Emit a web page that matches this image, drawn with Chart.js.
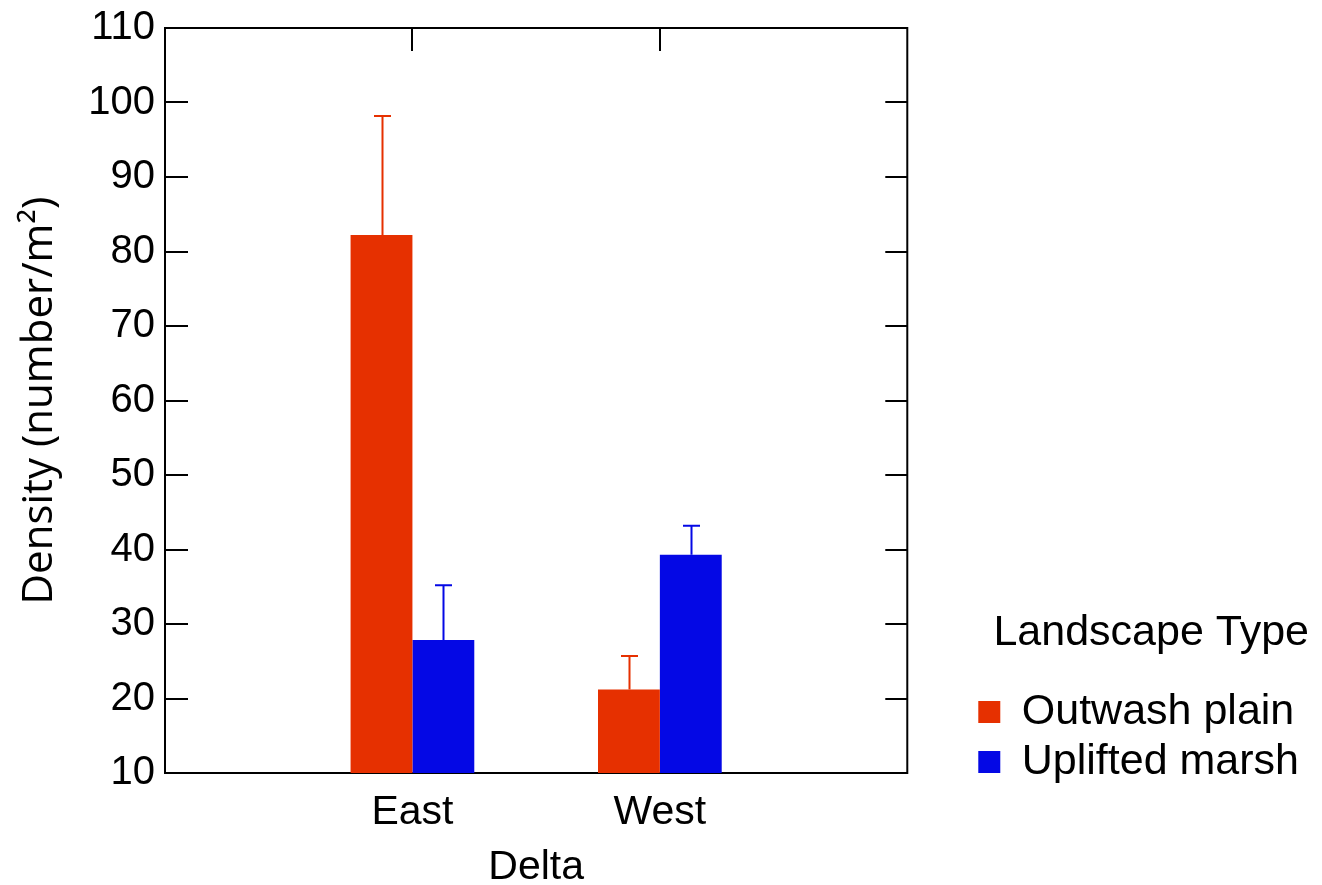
<!DOCTYPE html>
<html>
<head>
<meta charset="utf-8">
<script src="https://cdn.jsdelivr.net/npm/chart.js@4.4.1/dist/chart.umd.min.js"></script>
<style>
  html, body { margin: 0; padding: 0; background: #ffffff; }
  #wrap { width: 1322px; height: 885px; }
</style>
</head>
<body>
<div id="wrap"><canvas id="c" width="1322" height="885"></canvas></div>
<script>
// Density by delta and landscape type (mean with upper error bar)
const categories = ['East', 'West'];
const seriesNames = ['Outwash plain', 'Uplifted marsh'];
const outwashMeans = [82.2, 21.2];
const outwashErrors = [16.0, 4.5];
const upliftedMeans = [27.85, 39.3];
const upliftedErrors = [7.35, 3.9];
const yTickValues = [10, 20, 30, 40, 50, 60, 70, 80, 90, 100, 110];

const RED = '#E63000';
const BLUE = '#0408E5';
const FONT = "'Liberation Sans', Arial, sans-serif";

// Empty slots on both ends put the categories at 1/3 and 2/3 of the axis
const axisLabels = ['', ...categories, ''];
const pad = arr => [null, ...arr, null];

// Box around the plot with inward tick marks on left, right and top
const frameAndTicks = {
  id: 'frameAndTicks',
  beforeDatasetsDraw(chart) {
    const { ctx, chartArea: a, scales: { x, y } } = chart;
    ctx.save();
    ctx.strokeStyle = '#000000';
    ctx.lineWidth = 2;
    ctx.strokeRect(a.left, a.top, a.right - a.left, a.bottom - a.top);
    ctx.beginPath();
    yTickValues.forEach(v => {
      const py = Math.round(y.getPixelForValue(v));
      ctx.moveTo(a.left, py); ctx.lineTo(a.left + 23, py);
      ctx.moveTo(a.right, py); ctx.lineTo(a.right - 22, py);
    });
    categories.forEach(c => {
      const px = Math.round(x.getPixelForValue(axisLabels.indexOf(c)));
      ctx.moveTo(px, a.top); ctx.lineTo(px, a.top + 23);
    });
    ctx.stroke();
    ctx.restore();
  }
};

// One-sided (upper) error bars with a short cap
const upperErrorBars = {
  id: 'upperErrorBars',
  afterDatasetsDraw(chart) {
    const { ctx, scales: { y } } = chart;
    ctx.save();
    ctx.lineWidth = 2;
    chart.data.datasets.forEach((ds, i) => {
      const meta = chart.getDatasetMeta(i);
      ctx.strokeStyle = ds.backgroundColor;
      meta.data.forEach((bar, j) => {
        const v = ds.data[j];
        const e = ds.errors[j];
        if (v == null || e == null) return;
        const top = y.getPixelForValue(v + e);
        const cx = Math.round(bar.x) + 0.5;
        ctx.beginPath();
        ctx.moveTo(cx, bar.y);
        ctx.lineTo(cx, top);
        ctx.moveTo(cx - 8.5, top);
        ctx.lineTo(cx + 8.5, top);
        ctx.stroke();
      });
    });
    ctx.restore();
  }
};

new Chart(document.getElementById('c'), {
  type: 'bar',
  data: {
    labels: axisLabels,
    datasets: [
      { label: seriesNames[0], data: pad(outwashMeans), errors: pad(outwashErrors),
        backgroundColor: RED, borderWidth: 0 },
      { label: seriesNames[1], data: pad(upliftedMeans), errors: pad(upliftedErrors),
        backgroundColor: BLUE, borderWidth: 0 }
    ]
  },
  options: {
    responsive: false,
    devicePixelRatio: 1,
    animation: false,
    layout: { padding: { left: 0, top: 28, right: 13, bottom: 0 } },
    datasets: { bar: { categoryPercentage: 0.5, barPercentage: 1.0 } },
    scales: {
      x: {
        type: 'category',
        offset: false,
        grid: { display: false, drawTicks: false },
        border: { display: false },
        ticks: { autoSkip: false, maxRotation: 0, color: '#000', padding: 15,
                 font: { family: FONT, size: 41 } },
        title: { display: true, text: 'Delta', color: '#000',
                 font: { family: FONT, size: 41, lineHeight: 0.85 }, padding: { top: 0, bottom: 0 } },
        afterFit: s => { s.height = 112; }
      },
      y: {
        position: 'left',
        min: 10, max: 110,
        grid: { display: false, drawTicks: false },
        border: { display: false },
        ticks: { stepSize: 10, color: '#000', padding: 10,
                 font: { family: FONT, size: 40, lineHeight: 0.8 } },
        title: { display: true, text: 'Density (number/m²)', color: '#000',
                 font: { family: "'Open Sans', sans-serif", size: 42, lineHeight: 1.2 },
                 padding: { top: 15, bottom: 0 } },
        afterFit: s => { s.width = 165; }
      },
      gap: {
        position: 'right',
        display: true,
        grid: { display: false, drawTicks: false },
        border: { display: false },
        ticks: { display: false },
        afterFit: s => { s.width = 64; }
      }
    },
    plugins: {
      tooltip: { enabled: false },
      legend: {
        position: 'right',
        align: 'start',
        fullSize: true,
        maxWidth: 420,
        labels: {
          color: '#000',
          boxWidth: 22,
          boxHeight: 22,
          padding: 7,
          font: { family: FONT, size: 43 }
        },
        title: {
          display: true,
          text: 'Landscape Type',
          color: '#000',
          position: 'end',
          font: { family: FONT, size: 43, lineHeight: 1.2 },
          padding: { top: 583.5, bottom: 20.4 }
        }
      }
    }
  },
  plugins: [frameAndTicks, upperErrorBars]
});
</script>
</body>
</html>
